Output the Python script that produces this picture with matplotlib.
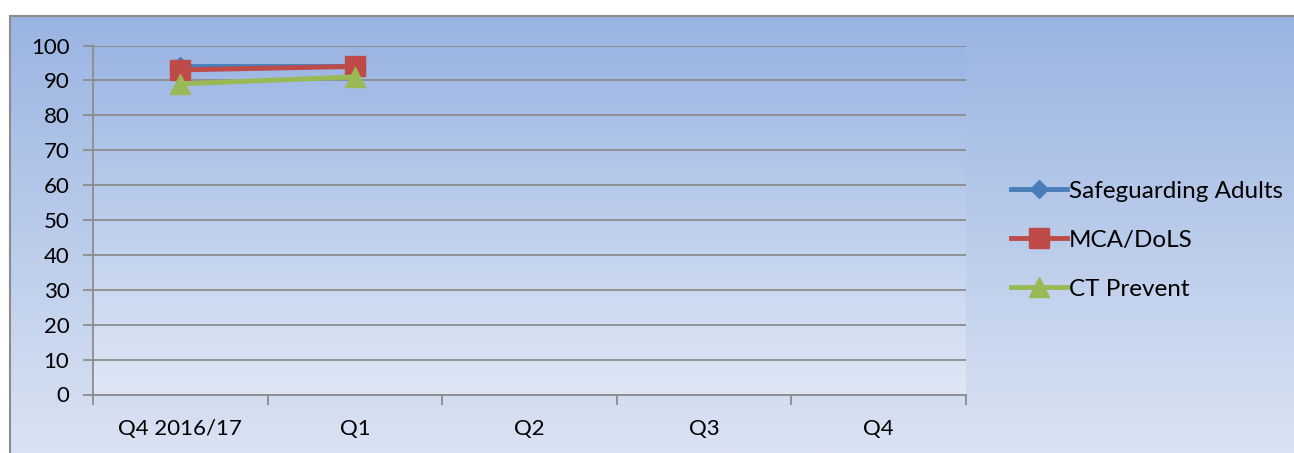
import numpy as np
import matplotlib.pyplot as plt
from matplotlib.colors import LinearSegmentedColormap

categories = ["Q4 2016/17", "Q1", "Q2", "Q3", "Q4"]
safeguarding = [94, 94]
mca_dols = [93, 94]
ct_prevent = [89, 91]
y_ticks = list(range(0, 101, 10))

W, H = 1294, 453
fig = plt.figure(figsize=(W / 100, H / 100), dpi=100)
fig.patch.set_facecolor("white")

# chart area with vertical gradient
bg = fig.add_axes([10 / W, 0, (W - 10) / W, (H - 16) / H])
grad = LinearSegmentedColormap.from_list("g", ["#dae3f3", "#9ab4e2"])
bg.imshow(np.linspace(0, 1, 256).reshape(-1, 1), aspect="auto", cmap=grad,
          origin="lower", extent=[0, 1, 0, 1])
bg.set_xticks([])
bg.set_yticks([])
for s in ["right", "bottom"]:
    bg.spines[s].set_visible(False)
for s in ["left", "top"]:
    bg.spines[s].set_color("#8c8c8c")
    bg.spines[s].set_linewidth(1.5)

# plot area
left, right, top, bottom = 93, 966, 45.5, 394.5
ax = fig.add_axes([left / W, (H - bottom) / H, (right - left) / W, (bottom - top) / H])
grad2 = LinearSegmentedColormap.from_list("g2", ["#dfe7f5", "#9bb5e3"])
ax.imshow(np.linspace(0, 1, 256).reshape(-1, 1), aspect="auto", cmap=grad2,
          origin="lower", extent=[-0.5, 4.5, 0, 100], zorder=0)

x = np.arange(len(categories))
ax.plot(x[:2], safeguarding, color="#4a7ebb", lw=3.5, marker="D", ms=9,
        label="Safeguarding Adults", zorder=3)
ax.plot(x[:2], mca_dols, color="#be4b48", lw=3.5, marker="s", ms=14,
        label="MCA/DoLS", zorder=4)
ax.plot(x[:2], ct_prevent, color="#98b954", lw=3.5, marker="^", ms=14,
        label="CT Prevent", zorder=5)

ax.set_xlim(-0.5, 4.5)
ax.set_ylim(0, 100)
ax.set_yticks(y_ticks)
ax.set_xticks(x)
ax.set_xticklabels(categories)
ax.set_xticks(np.arange(-0.5, 5, 1), minor=True)
ax.tick_params(axis="x", which="major", length=0, pad=18, labelsize=16)
ax.tick_params(axis="x", which="minor", length=7, width=1.3, color="#8c8c8c", direction="out")
ax.tick_params(axis="y", length=7, width=1.3, color="#8c8c8c", pad=10, labelsize=16)
for lab in ax.get_xticklabels() + ax.get_yticklabels():
    lab.set_fontfamily("Lato")
ax.grid(axis="y", color="#8c8c8c", lw=1.3)
ax.set_axisbelow(True)
for s in ["top", "right"]:
    ax.spines[s].set_visible(False)
for s in ["left", "bottom"]:
    ax.spines[s].set_color("#8c8c8c")
    ax.spines[s].set_linewidth(1.3)

leg = fig.legend(loc="upper left", bbox_to_anchor=(1001 / W, (H - 171) / H),
                 frameon=False, handlelength=2.3, handletextpad=0.1,
                 labelspacing=1.15, prop={"family": "Lato", "size": 17.5},
                 borderaxespad=0)

fig.savefig("out.png", dpi=100)
